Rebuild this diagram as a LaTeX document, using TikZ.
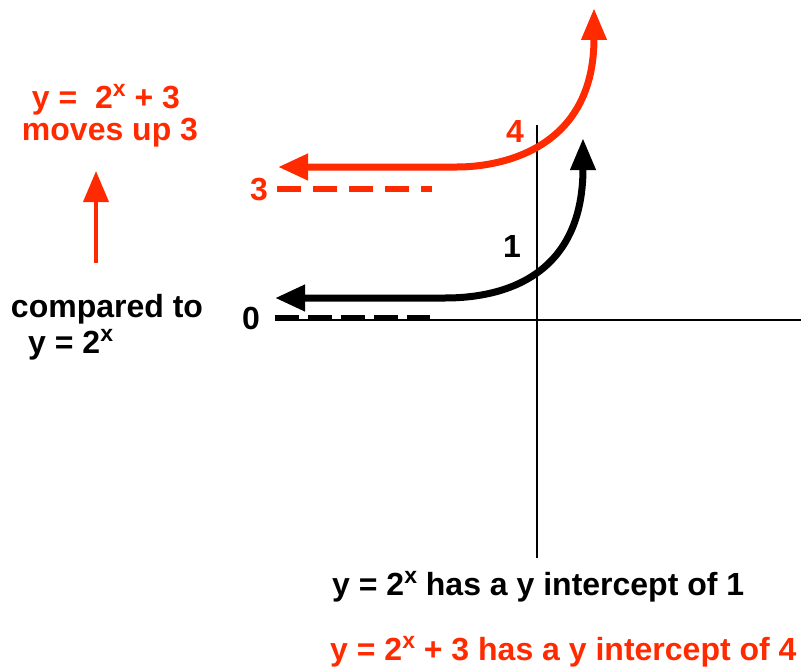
\documentclass[tikz,border=0pt]{standalone}
\usepackage{fontspec}
\setmainfont{Liberation Sans}
\usetikzlibrary{arrows.meta, positioning}
\definecolor{shiftred}{HTML}{FF2A00}
\definecolor{axisblack}{HTML}{000000}
\newcommand{\pw}[1]{#1\raisebox{12pt}{\fontsize{23}{23}\selectfont x}}

\begin{document}
\begin{tikzpicture}[x=1pt, y=-1pt,
    lbl/.style={font=\fontsize{32}{38}\selectfont\bfseries, inner sep=0pt},
    curve/.style={line width=7pt, {Triangle[length=30pt,width=25pt]}-{Triangle[length=32pt,width=24pt]}},
    asymp/.style={line width=6pt}]
    \useasboundingbox (0,0) rectangle (801,669);
    % axes
    \coordinate (xl) at (275,320);
    \coordinate (xr) at (801,320);
    \coordinate (yt) at (537,125);
    \coordinate (yb) at (537,558);
    \draw[line width=2pt] (xl) -- (xr);
    \draw[line width=2pt] (yt) -- (yb);
    % asymptotes
    \coordinate (a0l) at (275,318);
    \coordinate (a0r) at (430,318);
    \coordinate (a3l) at (277,189);
    \coordinate (a3r) at (432,189);
    \draw[asymp, dash pattern=on 24pt off 9pt] (a0l) -- (a0r);
    \draw[asymp, shiftred, dash pattern=on 24pt off 12pt] (a3l) -- (a3r);
    % y = 2^x
    \coordinate (bk) at (275,298);
    \coordinate (bkbend) at (445,298);
    \coordinate (bktop) at (583,138);
    \draw[curve] (bk) -- (bkbend) .. controls (515,298) and (583,268) .. (bktop);
    % y = 2^x + 3
    \coordinate (rd) at (278,167);
    \coordinate (rdbend) at (457,167);
    \coordinate (rdtop) at (594,8);
    \draw[curve, shiftred] (rd) -- (rdbend) .. controls (500,167) and (594,150) .. (rdtop);
    % axis labels
    \node[lbl, shiftred] (l3) at (259,190) {3};
    \node[lbl] (l0) at (251,318) {0};
    \node[lbl, shiftred] (l4) at (515,131) {4};
    \node[lbl] (l1) at (512,246) {1};
    % left notes
    \node[lbl, shiftred, anchor=base] (shift) at (106,108) {y =\ \ \pw{2} +\ 3};
    \node[lbl, shiftred, anchor=base] (up) at (110,140) {moves up 3};
    \coordinate (upfoot) at (96,263);
    \coordinate (uptip) at (96,171);
    \draw[shiftred, line width=4pt, -{Triangle[length=31pt,width=25pt]}] (upfoot) -- (uptip);
    \node[lbl, anchor=base] (cmp) at (107,317) {compared to};
    \node[lbl, anchor=base west] (cmpf) at (28,353) {y = \pw{2}};
    % intercepts
    \node[lbl, anchor=base west] (ib) at (332,595) {y = \pw{2} has a y intercept of 1};
    \node[lbl, shiftred, anchor=base west] (ir) at (330,660) {y = \pw{2} + 3 has a y intercept of 4};
\end{tikzpicture}
\end{document}
